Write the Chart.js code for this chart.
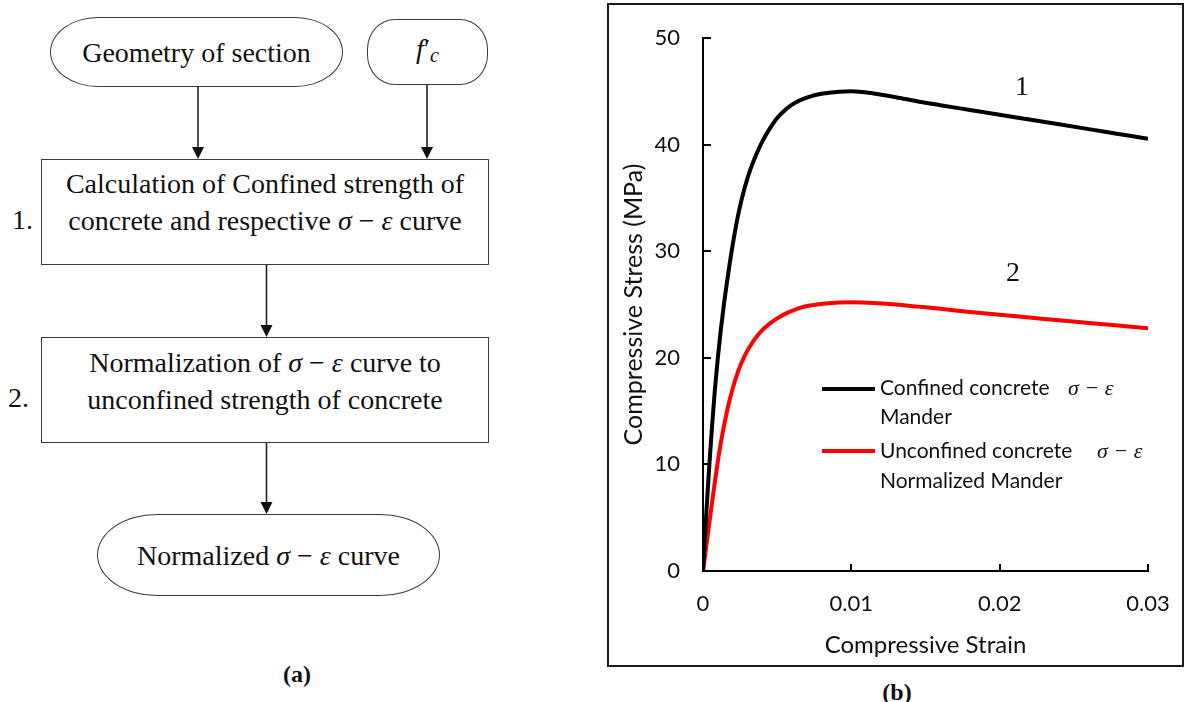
<!DOCTYPE html>
<html>
<head>
<meta charset="utf-8">
<title>Normalized stress-strain procedure</title>
<script src="https://cdn.jsdelivr.net/npm/chart.js@4.4.1/dist/chart.umd.min.js"></script>
<style>
  html, body { margin: 0; padding: 0; background: #fff; }
  body { width: 1188px; height: 702px; position: relative; overflow: hidden;
         font-family: "Liberation Serif", "Times New Roman", serif; color: #111; }
  .node { position: absolute; box-sizing: border-box; border: 1.6px solid #3c3c3c; background: #fff;
          font-size: 28px; line-height: 37px; text-align: center; white-space: nowrap; }
  .flex { display: flex; align-items: center; justify-content: center; }
  .step { position: absolute; font-size: 28px; line-height: 28px; }
  .cap { position: absolute; font-weight: bold; font-size: 24px; line-height: 24px; transform: translate(-50%, -50%); }
  i { font-style: italic; }
  #frame { position: absolute; left: 607px; top: 3px; width: 577px; height: 664px;
           box-sizing: border-box; border: 2px solid #1a1a1a; }
  #plot { position: absolute; left: 609px; top: 5px; width: 573px; height: 660px; }
  svg { position: absolute; left: 0; top: 0; }
</style>
</head>
<body>

<!-- (a) procedure flowchart -->
<svg width="600" height="702" viewBox="0 0 600 702">
  <g stroke="#222" stroke-width="1.6" fill="none">
    <line x1="198" y1="87" x2="198" y2="148"/>
    <line x1="427" y1="85" x2="427" y2="148"/>
    <line x1="266.5" y1="265" x2="266.5" y2="326"/>
    <line x1="266.5" y1="443" x2="266.5" y2="503"/>
  </g>
  <g fill="#111">
    <polygon points="192,147 204,147 198,159"/>
    <polygon points="421,147 433,147 427,159"/>
    <polygon points="260.5,325 272.5,325 266.5,337"/>
    <polygon points="260.5,502 272.5,502 266.5,514"/>
  </g>
</svg>

<div class="node flex" style="left:50px;top:17px;width:293px;height:70px;border-radius:48px/35px;">Geometry of section</div>
<div class="node flex" style="left:367px;top:19px;width:121px;height:66px;border-radius:28px/30px;"><span><i>f</i>′<sub style="font-size:20px;vertical-align:-4px;"><i>c</i></sub></span></div>

<div class="node" style="left:41px;top:159px;width:448px;height:106px;padding-top:5px;">Calculation of Confined strength of<br>concrete and respective <i>σ</i> − <i>ε</i> curve</div>
<div class="step" style="left:12px;top:206px;">1.</div>

<div class="node" style="left:41px;top:337px;width:448px;height:106px;padding-top:6px;">Normalization of <i>σ</i> − <i>ε</i> curve to<br>unconfined strength of concrete</div>
<div class="step" style="left:8px;top:384px;">2.</div>

<div class="node flex" style="left:97px;top:514px;width:343px;height:82px;border-radius:60px/41px;">Normalized&nbsp;<i>σ</i>&nbsp;−&nbsp;<i>ε</i>&nbsp;curve</div>

<div class="cap" style="left:297px;top:674px;">(a)</div>

<!-- (b) stress-strain chart -->
<div id="frame"></div>
<div id="plot"><canvas id="chart" width="573" height="660"></canvas></div>
<div class="cap" style="left:897px;top:692px;">(b)</div>

<script>
// Compressive strain sample points shared by both curves
const strain = [0, 0.0002, 0.0004, 0.0006, 0.0008, 0.001, 0.0012, 0.0014, 0.0017, 0.002,
                0.0024, 0.0028, 0.0032, 0.0036, 0.004, 0.0045, 0.005, 0.0055, 0.006, 0.0066,
                0.0072, 0.0078, 0.0085, 0.0092, 0.01, 0.0115, 0.013, 0.0145, 0.016, 0.018,
                0.02, 0.022, 0.024, 0.026, 0.028, 0.03];

// Stress (MPa): confined concrete, Mander model
const confinedStress = [0, 4.9, 9.4, 13.4, 17.0, 20.0, 22.6, 24.9, 27.9, 30.6,
                        33.6, 35.9, 37.7, 39.1, 40.3, 41.5, 42.5, 43.2, 43.75, 44.2,
                        44.5, 44.72, 44.87, 44.96, 45.0, 44.8, 44.45, 44.05, 43.7, 43.25,
                        42.8, 42.35, 41.9, 41.45, 41.0, 40.55];

// Stress (MPa): unconfined concrete, normalized Mander model
const unconfinedStress = [0, 2.1, 4.2, 6.3, 8.35, 10.3, 12.0, 13.5, 15.5, 17.1,
                          18.85, 20.15, 21.15, 21.95, 22.6, 23.2, 23.7, 24.1, 24.4, 24.7,
                          24.9, 25.03, 25.12, 25.18, 25.2, 25.15, 25.0, 24.8, 24.6, 24.3,
                          24.03, 23.78, 23.52, 23.27, 23.02, 22.77];

const seriesNames = [["Confined concrete", "Mander"], ["Unconfined concrete", "Normalized Mander"]];
const seriesColors = ["#000000", "#ff0000"];
const curveNumbers = ["1", "2"];

const xTickLabels = ["0", "0.01", "0.02", "0.03"];
const yTickLabels = ["0", "10", "20", "30", "40", "50"];

const sansFont = "Lato, 'Open Sans', sans-serif";

// Inward tick marks, curve numbers and the two-line legend
const decorations = {
  id: 'decorations',
  afterDraw(chart) {
    const ctx = chart.ctx;
    const xs = chart.scales.x, ys = chart.scales.y;
    const area = chart.chartArea;
    ctx.save();
    ctx.strokeStyle = '#000';
    ctx.lineWidth = 2;
    ys.ticks.forEach(t => {
      const py = Math.round(ys.getPixelForValue(t.value));
      ctx.beginPath(); ctx.moveTo(area.left, py); ctx.lineTo(area.left + 8, py); ctx.stroke();
    });
    xs.ticks.forEach(t => {
      const px = Math.round(xs.getPixelForValue(t.value));
      ctx.beginPath(); ctx.moveTo(px, area.bottom); ctx.lineTo(px, area.bottom - 7); ctx.stroke();
    });

    // curve numbers
    ctx.fillStyle = '#111';
    ctx.font = "28px 'Liberation Serif', serif";
    ctx.textAlign = 'center';
    ctx.textBaseline = 'middle';
    const anchors = [[0.0215, 45.3], [0.0209, 27.9]];
    curveNumbers.forEach((n, i) => {
      ctx.fillText(n, xs.getPixelForValue(anchors[i][0]), ys.getPixelForValue(anchors[i][1]));
    });

    // legend (page offsets of the canvas: 609, 5)
    const lx = 822 - 609, tx = 880 - 609;
    const rows = [[389, 395, 424], [451, 458, 488]];
    const symbolX = [1068 - 609, 1097 - 609];
    ctx.textAlign = 'left';
    ctx.textBaseline = 'alphabetic';
    seriesNames.forEach((lines, i) => {
      const [ly, b1, b2] = rows[i].map(v => v - 5);
      ctx.strokeStyle = seriesColors[i];
      ctx.lineWidth = 4;
      ctx.beginPath(); ctx.moveTo(lx, ly); ctx.lineTo(lx + 53, ly); ctx.stroke();
      ctx.fillStyle = '#111';
      ctx.font = "21px " + sansFont;
      ctx.fillText(lines[0], tx, b1);
      ctx.fillText(lines[1], tx, b2);
      ctx.font = "italic 22px 'Liberation Serif', serif";
      ctx.fillText('σ − ε', symbolX[i], b1);
    });
    ctx.restore();
  }
};

const toPoints = ys => strain.map((s, i) => ({ x: s, y: ys[i] }));

new Chart(document.getElementById('chart'), {
  type: 'line',
  data: {
    datasets: [
      { label: seriesNames[0].join(' '), data: toPoints(confinedStress), borderColor: seriesColors[0],
        borderWidth: 4, pointRadius: 0, cubicInterpolationMode: 'monotone', fill: false },
      { label: seriesNames[1].join(' '), data: toPoints(unconfinedStress), borderColor: seriesColors[1],
        borderWidth: 4, pointRadius: 0, cubicInterpolationMode: 'monotone', fill: false }
    ]
  },
  options: {
    responsive: false,
    animation: false,
    events: [],
    layout: { padding: { top: 33, right: 34, left: 0, bottom: 0 } },
    plugins: { legend: { display: false }, tooltip: { enabled: false } },
    scales: {
      x: {
        type: 'linear', min: 0, max: 0.03,
        afterFit: s => { s.height = 94; s.paddingLeft = 0; s.paddingRight = 0; },
        grid: { display: false, drawTicks: false },
        border: { display: true, color: '#000', width: 2 },
        ticks: { stepSize: 0.01, padding: 20, color: '#111', font: { family: sansFont, size: 22 },
                 maxRotation: 0, callback: (v, i) => xTickLabels[i] },
        title: { display: true, text: 'Compressive Strain', color: '#111',
                 font: { family: sansFont, size: 24 }, padding: { top: 0, bottom: 5 } }
      },
      y: {
        min: 0, max: 50,
        afterFit: s => { s.width = 94; s.paddingTop = 0; s.paddingBottom = 0; },
        grid: { display: false, drawTicks: false },
        border: { display: true, color: '#000', width: 2 },
        ticks: { stepSize: 10, padding: 23, color: '#111', font: { family: sansFont, size: 22 },
                 callback: (v, i) => yTickLabels[i] },
        title: { display: true, text: 'Compressive Stress (MPa)', color: '#111',
                 font: { family: sansFont, size: 25 }, padding: { top: 10, bottom: 0 } }
      }
    }
  },
  plugins: [decorations]
});
</script>
</body>
</html>
